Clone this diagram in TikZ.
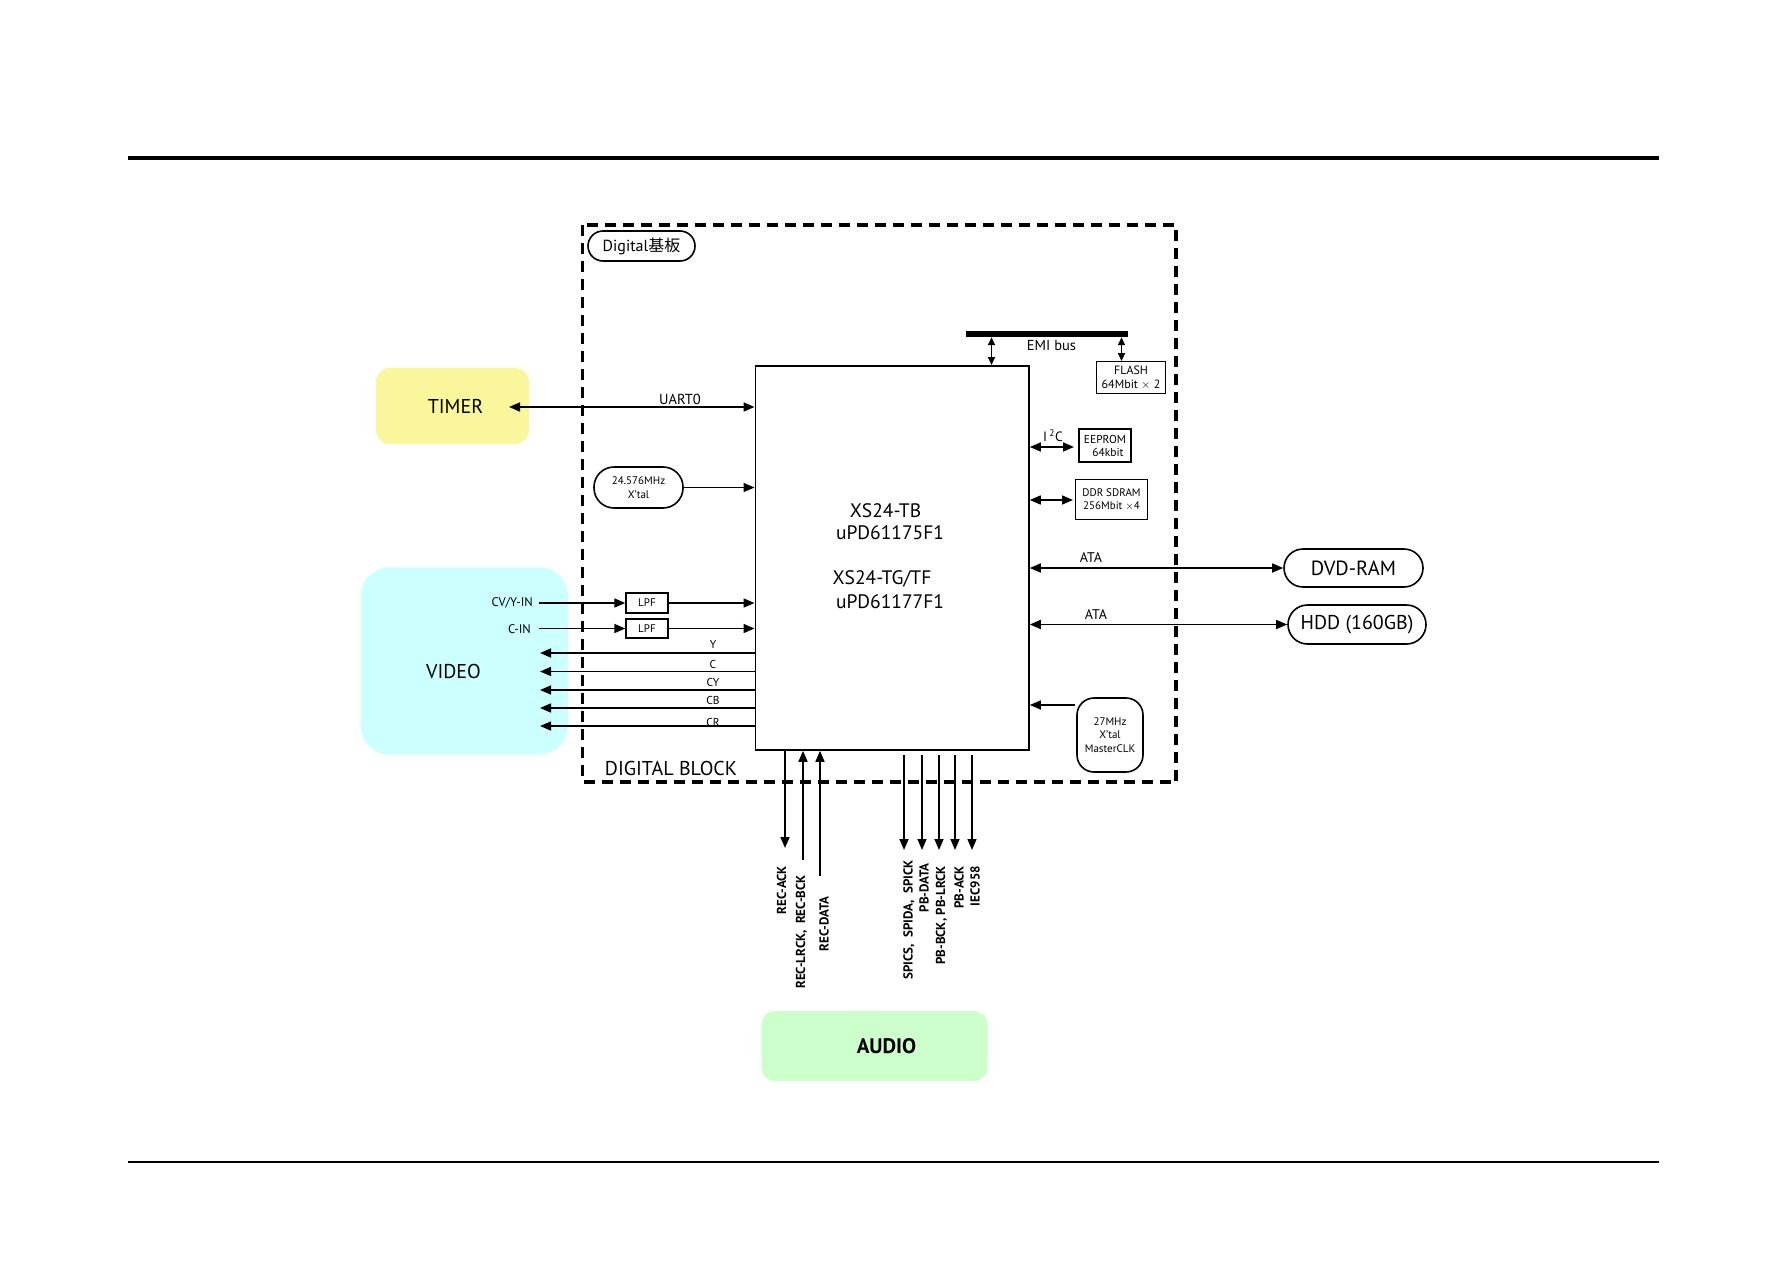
\documentclass[tikz,border=0pt]{standalone}
\usepackage{fontspec}
\setmainfont{PT Sans}
\newfontfamily\cjk{Noto Sans CJK JP}
\usetikzlibrary{arrows.meta}
\definecolor{timerY}{RGB}{250,246,155}
\definecolor{videoC}{RGB}{204,255,255}
\definecolor{audioG}{RGB}{204,255,204}
\newcommand{\fsz}[2]{\fontsize{#1}{#2}\selectfont}
\tikzset{
  conn/.style={line width=1.6pt},
  arr/.style={conn,-{Triangle[length=11pt,width=9pt]}},
  darr/.style={conn,{Triangle[length=11pt,width=9pt]}-{Triangle[length=11pt,width=9pt]}},
  sdarr/.style={conn,{Triangle[length=8pt,width=7pt]}-{Triangle[length=8pt,width=7pt]}},
  smallbox/.style={draw,line width=1.4pt,inner sep=0pt,align=center,font=\fsz{11.5}{13}},
  pill/.style={draw,line width=1.6pt,inner sep=0pt,align=center},
  colbox/.style={inner sep=0pt,font=\fsz{20}{24}},
  chiptxt/.style={inner sep=0pt,font=\fsz{19.5}{22}},
  lbl/.style={inner sep=0pt,font=\fsz{11.5}{13}},
  alabel/.style={inner sep=0pt,rotate=90,anchor=east,font=\fsz{13}{15}\bfseries}
}
\begin{document}
\begin{tikzpicture}[x=1pt,y=-1pt]
\useasboundingbox (0,0) rectangle (1787,1263);
% page rules
\draw[line width=3.3pt] (128,158) -- (1659,158);
\draw[line width=2pt] (128,1162) -- (1659,1162);
% digital block frame
\draw[line width=3.2pt,dash pattern=on 11pt off 7pt] (582.5,225) rectangle (1176,782);
\node[pill,rounded corners=15pt,minimum width=107pt,minimum height=30pt,font=\fsz{16}{18}] (dig) at (641.5,246) {Digital{\cjk 基板}};
\node[inner sep=0pt,font=\fsz{20}{24}] (dblock) at (671,768) {DIGITAL BLOCK};
% chip
\node[draw,line width=1.8pt,minimum width=273.5pt,minimum height=384pt,inner sep=0pt,anchor=north west] (chip) at (754.5,365) {};
\node[chiptxt] (t1) at (885.5,510.5) {XS24-TB};
\node[chiptxt] (t2) at (890,533) {uPD61175F1};
\node[chiptxt] (t3) at (882,579) {XS24-TG/TF};
\node[chiptxt] (t4) at (890,602) {uPD61177F1};
% EMI bus
\node[fill=black,minimum width=162pt,minimum height=6pt,inner sep=0pt] (emi) at (1047,334) {};
\node[inner sep=0pt,font=\fsz{14.5}{16}] (emilbl) at (1051.5,346) {EMI bus};
\node[smallbox,minimum width=69pt,minimum height=31.5pt,font=\fsz{12}{13.5}] (flash) at (1131,377.5) {FLASH\\64Mbit $\times$ 2};
\coordinate (e1) at (991.5,0);
\coordinate (e2) at (1121.5,0);
\draw[sdarr] (e1 |- emi.south) -- (e1 |- chip.north);
\draw[sdarr] (e2 |- emi.south) -- (e2 |- flash.north);
% EEPROM / DDR
\node[smallbox,minimum width=52pt,minimum height=33pt] (eeprom) at (1105,445.5) {EEPROM\\\hspace*{6pt}64kbit};
\node[smallbox,minimum width=72.5pt,minimum height=40pt,font=\fsz{11}{13}] (ddr) at (1111.5,499.5) {DDR SDRAM\\256Mbit $\times$4};
\coordinate (i2c) at (1074,447);
\draw[darr] (i2c -| chip.east) -- (i2c);
\node[inner sep=0pt,font=\fsz{13.5}{15}] (i2clbl) at (1053,436) {I\,\textsuperscript{2}C};
\coordinate (ddrL) at (1073,500);
\draw[darr] (ddrL -| chip.east) -- (ddrL);
% ATA devices
\node[pill,rounded corners=19pt,minimum width=139pt,minimum height=38pt,font=\fsz{20.5}{23}] (dvd) at (1353.5,568) {DVD-RAM};
\node[pill,rounded corners=19.5pt,minimum width=138pt,minimum height=39pt,font=\fsz{20}{23}] (hdd) at (1357,624.5) {HDD (160GB)};
\draw[darr] (dvd.west -| chip.east) -- (dvd.west);
\draw[darr] (hdd.west -| chip.east) -- (hdd.west);
\node[lbl,font=\fsz{14}{16}] (ata1) at (1091,558) {ATA};
\node[lbl,font=\fsz{14}{16}] (ata2) at (1096,615) {ATA};
% 27MHz
\node[pill,rounded corners=17pt,minimum width=66pt,minimum height=74pt,font=\fsz{11}{13.5}] (x27) at (1110,735) {27MHz\\X'tal\\MasterCLK};
\coordinate (x27L) at (1075,705);
\draw[arr] (x27L) -- (x27L -| chip.east);
% TIMER
\node[colbox,fill=timerY,rounded corners=14pt,minimum width=153pt,minimum height=76pt] (timer) at (452.5,406) {\hspace*{6pt}TIMER};
\coordinate (uL) at (509,407);
\draw[darr] (uL) -- (uL -| chip.west);
\node[inner sep=0pt,font=\fsz{14.5}{16}] (uart) at (680,399) {UART0};
% 24.576MHz
\node[pill,rounded corners=20pt,minimum width=89pt,minimum height=41pt,font=\fsz{11}{13.5}] (x24) at (638.5,487.5) {24.576MHz\\X'tal};
\draw[arr] (x24.east) -- (x24.east -| chip.west);
% VIDEO
\node[colbox,fill=videoC,rounded corners=28pt,minimum width=207pt,minimum height=187pt] (video) at (464.5,661) {};
\node[inner sep=0pt,font=\fsz{20}{24}] (vtxt) at (453.5,671) {VIDEO};
\node[smallbox,minimum width=42pt,minimum height=20pt,font=\fsz{11}{13}] (lpf1) at (647,603) {LPF};
\node[smallbox,minimum width=42pt,minimum height=19pt,font=\fsz{11}{13}] (lpf2) at (647,628.5) {LPF};
\node[lbl,anchor=east,font=\fsz{12.5}{14}] (cvin) at (533,603) {CV/Y-IN};
\node[lbl,anchor=east,font=\fsz{12.5}{14}] (cin) at (531,629) {C-IN};
\coordinate (in1) at (539,603);
\coordinate (in2) at (539,628.5);
\draw[arr] (in1) -- (lpf1.west);
\draw[arr] (in2) -- (lpf2.west);
\draw[arr] (lpf1.east) -- (lpf1.east -| chip.west);
\draw[arr] (lpf2.east) -- (lpf2.east -| chip.west);
\coordinate (oY) at (540,653);
\coordinate (oC) at (540,671.5);
\coordinate (oCY) at (540,690);
\coordinate (oCB) at (540,708);
\coordinate (oCR) at (540,726);
\draw[arr] (oY -| chip.west) -- (oY);
\draw[arr] (oC -| chip.west) -- (oC);
\draw[arr] (oCY -| chip.west) -- (oCY);
\draw[arr] (oCB -| chip.west) -- (oCB);
\draw[arr] (oCR -| chip.west) -- (oCR);
\node[lbl] (lY) at (713,644) {Y};
\node[lbl] (lC) at (713,664) {C};
\node[lbl] (lCY) at (713,682.5) {CY};
\node[lbl] (lCB) at (713,700.5) {CB};
\node[lbl] (lCR) at (713,722) {CR};
% AUDIO
\node[colbox,fill=audioG,rounded corners=13pt,minimum width=226pt,minimum height=70pt,font=\fsz{21}{24}\bfseries] (audio) at (874.5,1046) {\hspace*{24pt}AUDIO};
\coordinate (a1) at (785,848);
\coordinate (a2) at (803,860);
\coordinate (a3) at (820,876);
\draw[arr] (a1 |- chip.south) -- (a1);
\draw[arr] (a2) -- (a2 |- chip.south);
\draw[arr] (a3) -- (a3 |- chip.south);
\coordinate (b1) at (904,850);
\coordinate (b2) at (922,850);
\coordinate (b3) at (939,850);
\coordinate (b4) at (955,850);
\coordinate (b5) at (972,850);
\coordinate (bs) at (0,755);
\draw[arr] (b1 |- bs) -- (b1);
\draw[arr] (b2 |- bs) -- (b2);
\draw[arr] (b3 |- bs) -- (b3);
\draw[arr] (b4 |- bs) -- (b4);
\draw[arr] (b5 |- bs) -- (b5);
\node[alabel] (la1) at (781.5,866) {REC-ACK};
\node[alabel] (la2) at (801.5,875) {REC-LRCK,\hspace{0.5em}REC-BCK};
\node[alabel] (la3) at (824,896) {REC-DATA};
\node[alabel] (lb1) at (909,860) {SPICS,\hspace{0.5em}SPIDA,\hspace{0.5em}SPICK};
\node[alabel] (lb2) at (924,863) {PB-DATA};
\node[alabel] (lb3) at (941.5,866) {PB-BCK, PB-LRCK};
\node[alabel] (lb4) at (959,866) {PB-ACK};
\node[alabel] (lb5) at (975,866) {IEC958};
\end{tikzpicture}
\end{document}
